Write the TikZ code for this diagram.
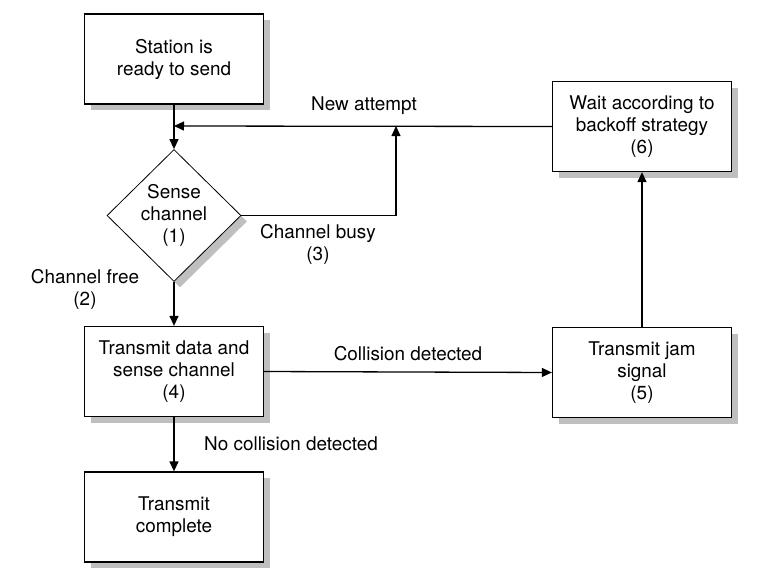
\documentclass[tikz,border=0pt]{standalone}
\usepackage{fontspec}
\setmainfont{TeX Gyre Heros}
\usetikzlibrary{arrows.meta,shapes.geometric,shadows}
\tikzset{
  txt/.style={font=\fontsize{18.9}{22}\selectfont, align=center, text=black},
  shad/.style={drop shadow={shadow xshift=6pt, shadow yshift=-6pt, fill=black!25, opacity=1}},
  box/.style={txt, draw=black, line width=1.3pt, fill=white, shad, minimum width=179pt, minimum height=90pt, inner sep=0pt},
  dec/.style={txt, draw=black, line width=0.8pt, fill=white, shad, shape=diamond, aspect=1, minimum width=134pt, minimum height=132pt, inner sep=0pt},
  conn/.style={line width=1.3pt, -{Triangle[length=10pt,width=9pt]}},
  lab/.style={txt}
}
\begin{document}
\begin{tikzpicture}[x=1pt,y=-1pt]
\useasboundingbox (0,0) rectangle (772,582);
\node[box] (s) at (174,59) {Station is\\ready to send};
\node[dec] (d) at (174,215.5) {Sense\\channel\\(1)};
\node[box] (w) at (642,126.5) {Wait according to\\backoff strategy\\(6)};
\node[box] (t) at (174,371.5) {Transmit data and\\sense channel\\(4)};
\node[box] (j) at (642,372.5) {Transmit jam\\signal\\(5)};
\node[box] (c) at (174,517) {Transmit\\complete};
\coordinate (m) at (174,126);
\coordinate (r) at (396,126);
\node[lab] (l1) at (364,106) {New attempt};
\node[lab] (l3) at (318,244) {Channel busy\\(3)};
\node[lab] (l2) at (85,289) {Channel free\\(2)};
\node[lab] (l4) at (408,354) {Collision detected};
\node[lab] (l5) at (291,444) {No collision detected};
\draw[conn] (s.south) -- (d.north);
\draw[conn] (w.west) -- (m);
\draw[conn] (d.east) -| (r);
\draw[conn] (d.south) -- (t.north);
\draw[conn] (t.east) -- (j.west);
\draw[conn] (j.north) -- (w.south);
\draw[conn] (t.south) -- (c.north);
\end{tikzpicture}
\end{document}
